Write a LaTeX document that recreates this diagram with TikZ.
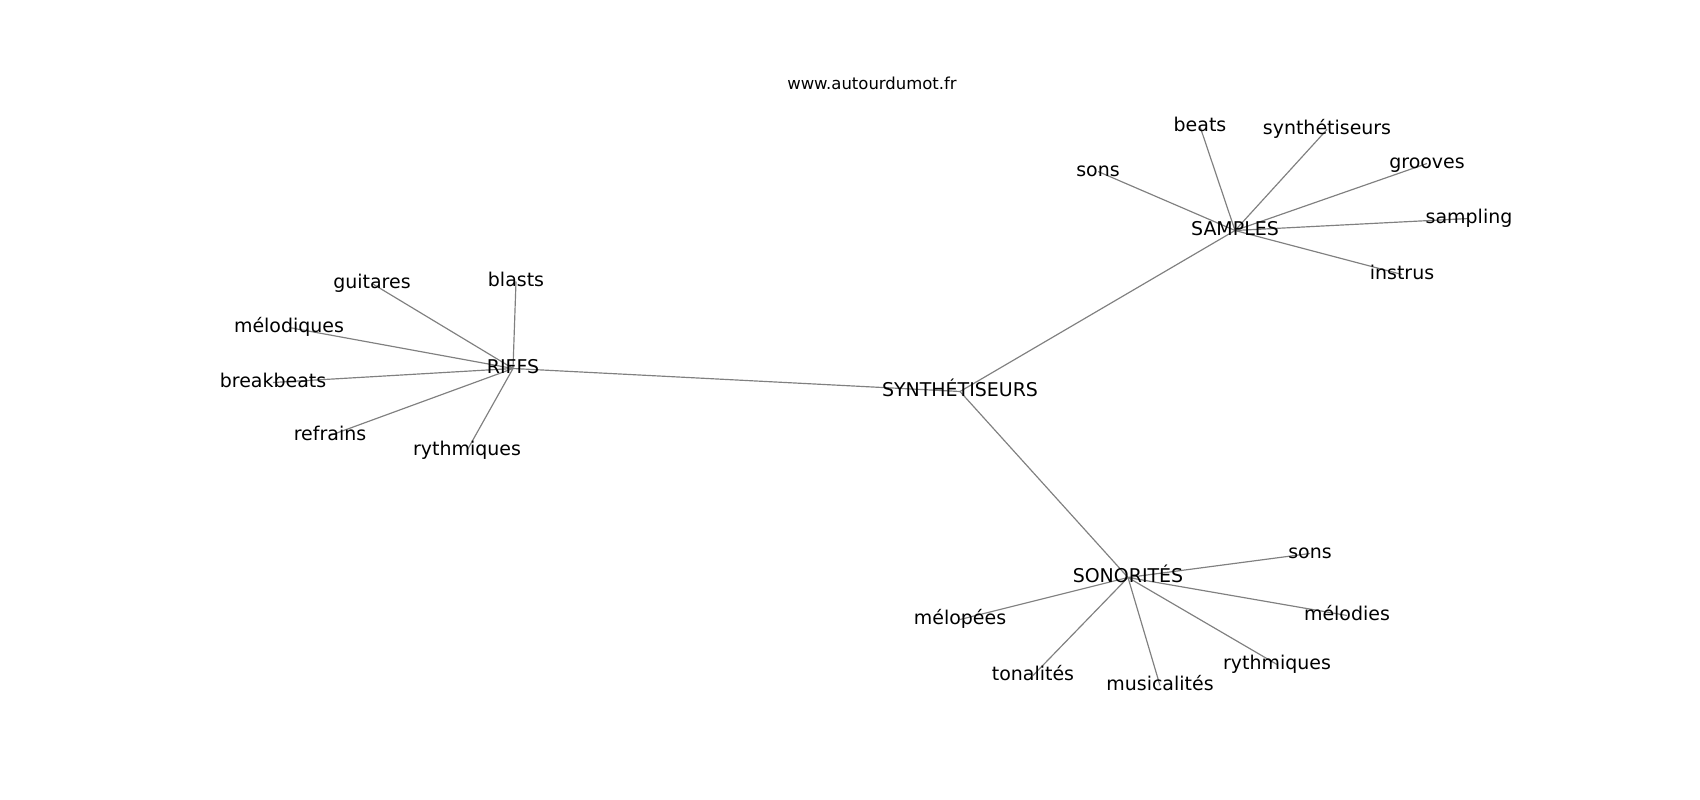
\documentclass[tikz,border=0pt]{standalone}
\usepackage{fontspec}
\setmainfont{DejaVu Sans}
\usepackage{tikz}
\usetikzlibrary{positioning,backgrounds}
\tikzset{>=latex}

\begin{document}
\begin{tikzpicture}[x=0.01in, y=-0.01in,
		word/.style={inner sep=0pt, text height=10.4pt, text depth=3.3pt, font=\fontsize{13.7}{16}\selectfont},
		link/.style={draw=gray, line width=0.85pt}]
		\useasboundingbox (0,-1.5) rectangle (1700,798.5);
		\node[inner sep=0pt, font=\fontsize{11.9}{14}\selectfont] (url) at (872,82) {www.autourdumot.fr};
		\node[word] (c0) at (960,390) {SYNTHÉTISEURS};
		\node[word] (c1) at (1235,229) {SAMPLES};
		\node[word] (c2) at (513,367) {RIFFS};
		\node[word] (c3) at (1128,576) {SONORITÉS};
		% samples
		\node[word] (s1) at (1098,170) {sons};
		\node[word] (s2) at (1200,125) {beats};
		\node[word] (s3) at (1327,128) {synthétiseurs};
		\node[word] (s4) at (1427,162) {grooves};
		\node[word] (s5) at (1469,217) {sampling};
		\node[word] (s6) at (1402,273) {instrus};
		% riffs
		\node[word] (r1) at (372,282) {guitares};
		\node[word] (r2) at (516,280) {blasts};
		\node[word] (r3) at (289,326) {mélodiques};
		\node[word] (r4) at (273,381) {breakbeats};
		\node[word] (r5) at (330,434) {refrains};
		\node[word] (r6) at (467,449) {rythmiques};
		% sonorites
		\node[word] (o1) at (1310,552) {sons};
		\node[word] (o2) at (960,618) {mélopées};
		\node[word] (o3) at (1347,614) {mélodies};
		\node[word] (o4) at (1033,674) {tonalités};
		\node[word] (o5) at (1160,684) {musicalités};
		\node[word] (o6) at (1277,663) {rythmiques};
		\begin{scope}[on background layer]
		\path[link]
			(c0.center) edge (c1.center) edge (c2.center) edge (c3.center)
			(c1.center) edge (s1.center) edge (s2.center) edge (s3.center) edge (s4.center) edge (s5.center) edge (s6.center)
			(c2.center) edge (r1.center) edge (r2.center) edge (r3.center) edge (r4.center) edge (r5.center) edge (r6.center)
			(c3.center) edge (o1.center) edge (o2.center) edge (o3.center) edge (o4.center) edge (o5.center) edge (o6.center);
		\end{scope}
	\end{tikzpicture}
\end{document}
